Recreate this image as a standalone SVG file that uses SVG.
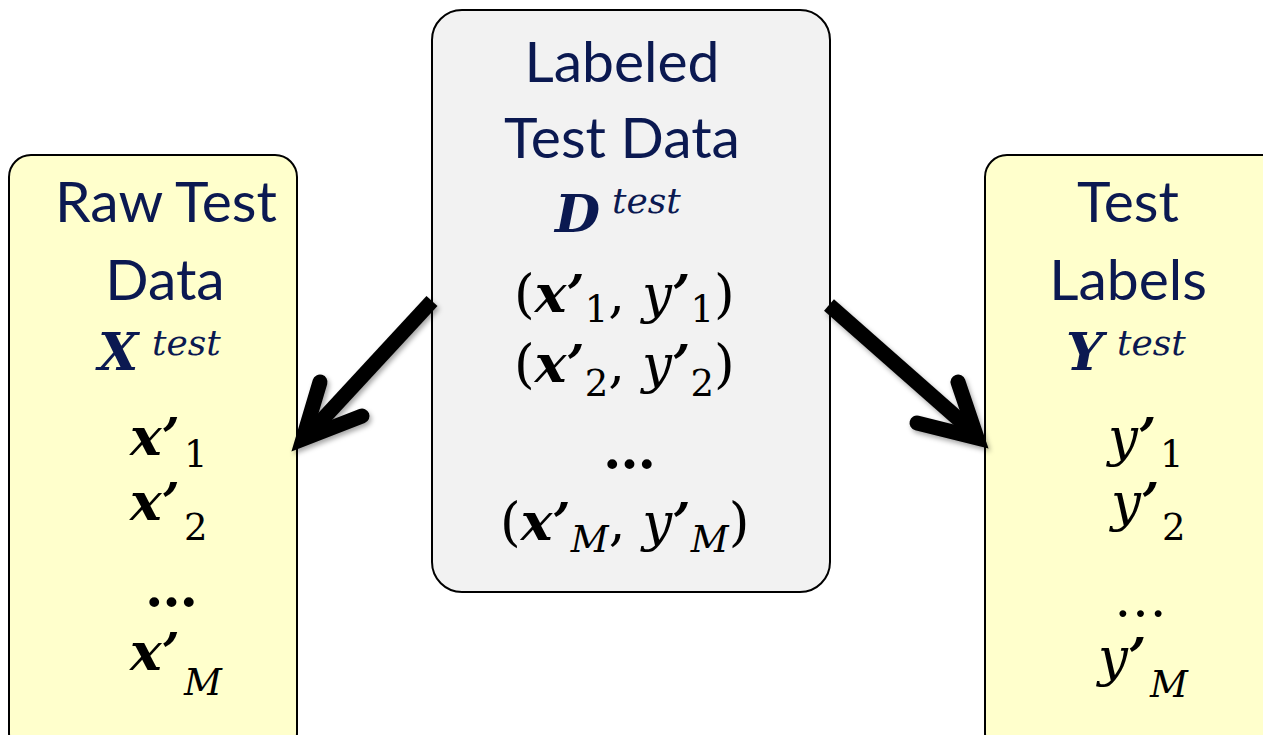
<svg xmlns="http://www.w3.org/2000/svg" width="1263" height="735" viewBox="0 0 1263 735">
<defs>
<filter id="sh" x="-20%" y="-20%" width="150%" height="150%">
<feDropShadow dx="2" dy="3" stdDeviation="2.5" flood-color="#000" flood-opacity="0.35"/>
</filter>
</defs>
<style>
.yel{fill:#FFFFCC;stroke:#000;stroke-width:2}
.gry{fill:#F2F2F2;stroke:#000;stroke-width:2}
.t{font-family:Lato,"Open Sans",sans-serif;font-size:57px;fill:#0B1951;text-anchor:middle}
.m{font-family:"DejaVu Serif",serif;font-size:53px;fill:#000}
.bi{font-weight:bold;font-style:italic}
.it{font-style:italic}
.nv{fill:#0B1951}
.sup{font-family:"DejaVu Serif",serif;font-style:italic;font-size:36px;fill:#0B1951}
.sub{font-size:37px}
.arr{fill:none;stroke:#000;stroke-width:15}
</style>
<g id="raw">
<rect class="yel" x="9" y="155" width="288" height="600" rx="22"/>
<text class="t" x="166" y="222">Raw Test</text>
<text class="t" x="165" y="300">Data</text>
<text class="m" x="98" y="370"><tspan class="bi nv" font-size="52">X</tspan><tspan class="sup" x="152" y="355">test</tspan></text>
<text class="m" x="130" y="455"><tspan class="bi">x</tspan><tspan class="bi">’</tspan><tspan class="sub" x="184" y="467">1</tspan></text>
<text class="m" x="130" y="520"><tspan class="bi">x</tspan><tspan class="bi">’</tspan><tspan class="sub" x="184" y="540">2</tspan></text>
<text class="m" x="145" y="606" font-weight="bold">…</text>
<text class="m" x="130" y="670"><tspan class="bi">x</tspan><tspan class="bi">’</tspan><tspan class="sub it" x="184" y="695">M</tspan></text>
</g>
<g id="labeled">
<rect class="gry" x="432" y="10" width="398" height="582" rx="30"/>
<text class="t" x="622" y="82">Labeled</text>
<text class="t" x="622" y="158">Test Data</text>
<text class="m" x="555" y="232"><tspan class="bi nv" font-size="52">D</tspan><tspan class="sup" x="612" y="213">test</tspan></text>
<text class="m" x="514" y="312">(<tspan class="bi">x</tspan><tspan class="bi">’</tspan><tspan class="sub" dy="10">1</tspan><tspan dy="-10">, </tspan><tspan class="it">y</tspan><tspan class="bi">’</tspan><tspan class="sub" dy="10">1</tspan><tspan dy="-10">)</tspan></text>
<text class="m" x="514" y="382">(<tspan class="bi">x</tspan><tspan class="bi">’</tspan><tspan class="sub" dy="14">2</tspan><tspan dy="-14">, </tspan><tspan class="it">y</tspan><tspan class="bi">’</tspan><tspan class="sub" dy="14">2</tspan><tspan dy="-14">)</tspan></text>
<text class="m" x="603" y="468" font-weight="bold">…</text>
<text class="m" x="500" y="540">(<tspan class="bi">x</tspan><tspan class="bi">’</tspan><tspan class="sub it" dy="12">M</tspan><tspan dy="-12">, </tspan><tspan class="it">y</tspan><tspan class="bi">’</tspan><tspan class="sub it" dy="12">M</tspan><tspan dy="-12">)</tspan></text>
</g>
<g id="labels">
<rect class="yel" x="985" y="155" width="320" height="600" rx="22"/>
<text class="t" x="1128" y="222">Test</text>
<text class="t" x="1128" y="300">Labels</text>
<text class="m" x="1066" y="370"><tspan class="bi nv" font-size="52">Y</tspan><tspan class="sup" x="1117" y="355">test</tspan></text>
<text class="m" x="1108" y="455"><tspan class="it">y</tspan><tspan class="bi">’</tspan><tspan class="sub" x="1160" y="467">1</tspan></text>
<text class="m" x="1111" y="520"><tspan class="it">y</tspan><tspan class="bi">’</tspan><tspan class="sub" x="1162" y="540">2</tspan></text>
<text class="m" x="1114" y="616" font-size="24">…</text>
<text class="m" x="1098" y="675"><tspan class="it">y</tspan><tspan class="bi">’</tspan><tspan class="sub it" x="1150" y="697">M</tspan></text>
</g>
<g id="connectors" filter="url(#sh)">
<path class="arr" d="M432,301 L309,434"/>
<path class="arr" d="M320,382 L303,439 L362,416" stroke-linecap="round" stroke-linejoin="miter"/>
<path class="arr" d="M829,305 L972,431"/>
<path class="arr" d="M958,382 L977,438 L917,423" stroke-linecap="round" stroke-linejoin="miter"/>
</g>
</svg>
